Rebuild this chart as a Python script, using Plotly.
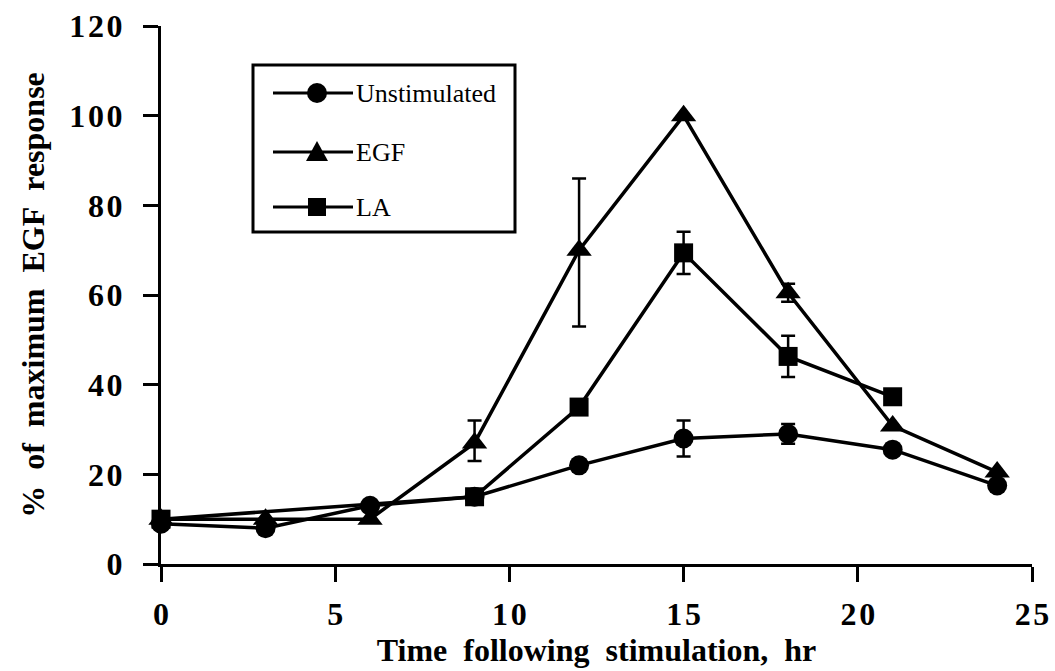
import plotly.graph_objects as go

# ---------------- data ----------------
unstim_x = [0, 3, 6, 9, 12, 15, 18, 21, 24]
unstim_y = [9, 8, 13, 15, 22, 28, 29, 25.5, 17.5]
unstim_err = [0, 0, 0, 0, 0, 4, 2.2, 0, 0]

egf_x = [0, 3, 6, 9, 12, 15, 18, 21, 24]
egf_y = [10, 10, 10, 27, 70, 100, 60.5, 30.8, 20.5]
egf_err_plus = [0, 0, 0, 5, 16, 0, 2, 0, 0]
egf_err_minus = [0, 0, 0, 4, 17, 0, 2, 0, 0]

la_x = [0, 9, 12, 15, 18, 21]
la_y = [10, 15, 35, 69.4, 46.3, 37.3]
la_err = [0, 0, 0, 4.7, 4.6, 0]

x_ticks = [0, 5, 10, 15, 20, 25]
y_ticks = [0, 20, 40, 60, 80, 100, 120]
x_tick_labels = ["0", "5", "10", "15", "20", "25"]
y_tick_labels = ["0", "20", "40", "60", "80", "100", "120"]

series_names = ["Unstimulated", "EGF", "LA"]

x_title = "Time following stimulation, hr"
y_title = "% of maximum EGF response"

# ---------------- layout geometry ----------------
W, H = 1055, 671
ML, MR, MT, MB = 161, 23, 26, 107
PW, PH = W - ML - MR, H - MT - MB

SERIF = "Liberation Serif, Times New Roman, serif"


def spaced(s, sep="\u200a"):
    return sep.join(list(s))


def wide(s):
    return s.replace(" ", "\u00a0\u00a0")


def px(x):
    return (x - ML) / PW


def py(y):
    return (H - MB - y) / PH


fig = go.Figure()

line_style = dict(color="black", width=3.5)
err_style = dict(color="black", thickness=2.5, width=7)

fig.add_trace(go.Scatter(
    x=unstim_x, y=unstim_y, name=series_names[0], mode="lines+markers",
    line=line_style, marker=dict(symbol="circle", size=20, color="black"),
    error_y=dict(type="data", array=unstim_err, visible=True, **err_style),
    cliponaxis=False, showlegend=False))

fig.add_trace(go.Scatter(
    x=egf_x, y=egf_y, name=series_names[1], mode="lines+markers",
    line=line_style, marker=dict(symbol="triangle-up", size=22, color="black"),
    error_y=dict(type="data", array=egf_err_plus, arrayminus=egf_err_minus,
                 visible=True, **err_style),
    cliponaxis=False, showlegend=False))

fig.add_trace(go.Scatter(
    x=la_x, y=la_y, name=series_names[2], mode="lines+markers",
    line=line_style, marker=dict(symbol="square", size=19, color="black"),
    error_y=dict(type="data", array=la_err, visible=True, **err_style),
    cliponaxis=False, showlegend=False))

# ---------------- custom legend (decoration) ----------------
shapes = []
annotations = []
box = dict(x0=253, x1=515, y0=65, y1=232)
shapes.append(dict(type="rect", xref="paper", yref="paper",
                   x0=px(box["x0"]), x1=px(box["x1"]),
                   y0=py(box["y1"]), y1=py(box["y0"]),
                   line=dict(color="black", width=3), fillcolor="white",
                   layer="below"))
rows = [93, 152, 207]
symbols = ["circle", "triangle", "square"]
for name, ry, sym in zip(series_names, rows, symbols):
    shapes.append(dict(type="line", xref="paper", yref="paper",
                       x0=px(273), x1=px(353), y0=py(ry), y1=py(ry),
                       line=dict(color="black", width=3)))
    cx, cy = px(317), py(ry)
    if sym == "circle":
        shapes.append(dict(type="circle", xref="paper", yref="paper",
                           xsizemode="pixel", ysizemode="pixel",
                           xanchor=cx, yanchor=cy, x0=-10, x1=10, y0=-10, y1=10,
                           fillcolor="black", line=dict(width=0)))
    elif sym == "square":
        shapes.append(dict(type="rect", xref="paper", yref="paper",
                           xsizemode="pixel", ysizemode="pixel",
                           xanchor=cx, yanchor=cy, x0=-9, x1=9, y0=-9, y1=9,
                           fillcolor="black", line=dict(width=0)))
    else:
        shapes.append(dict(type="path", xref="paper", yref="paper",
                           xsizemode="pixel", ysizemode="pixel",
                           xanchor=cx, yanchor=cy,
                           path="M -11 -9 L 11 -9 L 0 11 Z",
                           fillcolor="black", line=dict(width=0)))
    annotations.append(dict(xref="paper", yref="paper", x=px(354), y=py(ry),
                            xanchor="left", yanchor="middle", showarrow=False,
                            text=name, font=dict(family=SERIF, size=26, color="black")))

axis_common = dict(
    showgrid=False, zeroline=False, showline=True, linecolor="black", linewidth=3,
    ticks="outside", ticklen=15, tickwidth=2.5, tickcolor="black",
    tickfont=dict(family=SERIF, size=32, color="black", weight="bold"),
    mirror=False,
)

fig.update_layout(
    width=W, height=H,
    margin=dict(l=ML, r=MR, t=MT, b=MB, autoexpand=False),
    paper_bgcolor="white", plot_bgcolor="white",
    showlegend=False,
    xaxis=dict(range=[0, 25], tickvals=x_ticks,
               ticktext=[spaced(t) for t in x_tick_labels],
               ticklabelstandoff=5,
               title=dict(text=wide(x_title), standoff=0,
                          font=dict(family=SERIF, size=32, color="black", weight="bold")),
               **axis_common),
    yaxis=dict(range=[0, 120], tickvals=y_ticks,
               ticktext=[spaced(t) for t in y_tick_labels],
               ticklabelstandoff=14,
               title=dict(text=wide(y_title), standoff=16,
                          font=dict(family=SERIF, size=32, color="black", weight="bold")),
               **axis_common),
    shapes=shapes,
    annotations=annotations,
)

fig.write_html("out.html")
